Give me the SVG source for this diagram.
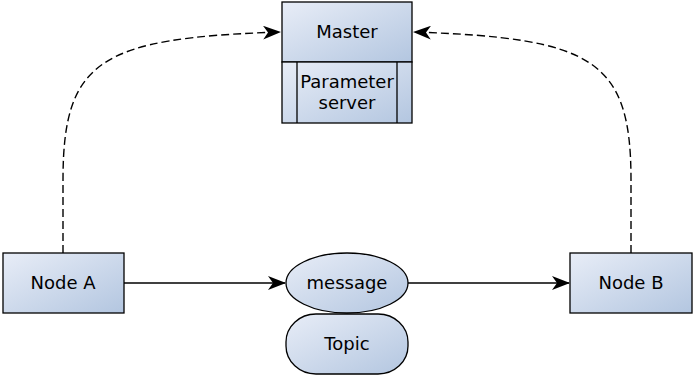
<svg xmlns="http://www.w3.org/2000/svg" width="693" height="375" viewBox="0 0 693 375">
<defs>
<linearGradient id="g" x1="0" y1="0" x2="1" y2="1">
<stop offset="0" stop-color="#e8edf7"/>
<stop offset="1" stop-color="#b3c6e0"/>
</linearGradient>
<marker id="ah" viewBox="0 0 18 14" refX="17" refY="7" markerWidth="18" markerHeight="14" markerUnits="userSpaceOnUse" orient="auto">
<path d="M0,0 L18,7 L0,14 L5,7 z" fill="#000"/>
</marker>
</defs>
<style>
.box{fill:url(#g);stroke:#000;stroke-width:1.3}
.t{font-family:"DejaVu Sans",sans-serif;font-size:18px;fill:#000;text-anchor:middle}
.c{fill:none;stroke:#000;stroke-width:1.4}
.d{stroke-dasharray:8,4}
</style>
<g id="master">
<rect class="box" x="282" y="2" width="130" height="60"/>
<text class="t" x="347" y="38">Master</text>
</g>
<g id="param">
<rect class="box" x="282" y="62" width="130" height="61"/>
<line x1="297" y1="62" x2="297" y2="123" stroke="#000" stroke-width="1.3"/>
<line x1="397" y1="62" x2="397" y2="123" stroke="#000" stroke-width="1.3"/>
<text class="t" x="347" y="88">Parameter</text>
<text class="t" x="347" y="109">server</text>
</g>
<g id="nodeA">
<rect class="box" x="3" y="253" width="121" height="60"/>
<text class="t" x="63" y="289">Node A</text>
</g>
<g id="nodeB">
<rect class="box" x="570" y="253" width="122" height="60"/>
<text class="t" x="631" y="289">Node B</text>
</g>
<g id="message">
<ellipse class="box" cx="347" cy="283" rx="61" ry="30"/>
<text class="t" x="347" y="289">message</text>
</g>
<g id="topic">
<rect class="box" x="286" y="314" width="122" height="60" rx="30" ry="28"/>
<text class="t" x="347" y="350">Topic</text>
</g>
<g id="connectors">
<path class="c d" d="M63,253 L63,180 C63,60 100,38 280,32" marker-end="url(#ah)"/>
<path class="c d" d="M631,253 L631,180 C631,60 594,38 414,32" marker-end="url(#ah)"/>
<path class="c" d="M124,283 L285,283" marker-end="url(#ah)"/>
<path class="c" d="M408,283 L569,283" marker-end="url(#ah)"/>
</g>
</svg>
